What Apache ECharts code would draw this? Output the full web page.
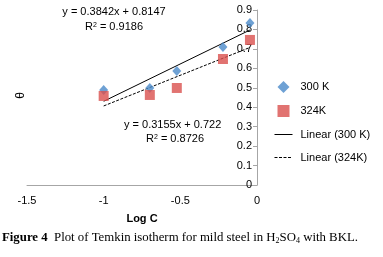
<!DOCTYPE html>
<html>
<head>
<meta charset="utf-8">
<script src="https://cdn.jsdelivr.net/npm/echarts@6/dist/echarts.min.js"></script>
<style>
  html, body { margin: 0; padding: 0; background: #fff; }
  #chart { width: 383px; height: 257px; }
</style>
</head>
<body>
<div id="chart"></div>
<script>
// log C values and coverage (theta)
const logC = [-1, -0.699, -0.523, -0.222, -0.046];
const theta300 = [0.488, 0.499, 0.586, 0.71, 0.833];
const theta324 = [0.458, 0.463, 0.499, 0.648, 0.746];

// trendline endpoints (from the printed fits)
const fit300 = [[-1, 0.4305], [-0.046, 0.7970]];
const fit324 = [[-1, 0.4065], [-0.046, 0.7075]];

const xTicks = [-1.5, -1, -0.5, 0];
const yTicks = [0, 0.1, 0.2, 0.3, 0.4, 0.5, 0.6, 0.7, 0.8, 0.9];

const chart = echarts.init(document.getElementById('chart'));

const font = 'Liberation Sans';
const noMarker = { color: 'transparent', borderWidth: 0 };

const option = {
  animation: false,
  textStyle: { fontFamily: font },
  grid: { left: 27, right: 126, top: 10, bottom: 72 },
  xAxis: {
    type: 'value',
    min: xTicks[0],
    max: xTicks[xTicks.length - 1],
    interval: 0.5,
    name: 'Log C',
    nameLocation: 'middle',
    nameGap: 28,
    nameTextStyle: { fontFamily: font, fontSize: 11, fontWeight: 'bold', color: '#000' },
    axisLine: { lineStyle: { color: '#a6a6a6', width: 1 } },
    axisTick: { show: false },
    splitLine: { show: false },
    axisLabel: { color: '#000', fontSize: 11, margin: 10 }
  },
  yAxis: {
    type: 'value',
    position: 'right',
    min: yTicks[0],
    max: yTicks[yTicks.length - 1],
    interval: 0.1,
    axisLine: { show: true, onZero: false, lineStyle: { color: '#a6a6a6', width: 1 } },
    axisTick: { show: true, inside: true, length: 4, lineStyle: { color: '#a6a6a6' } },
    splitLine: { show: false },
    axisLabel: {
      inside: true, margin: 5, color: '#000', fontSize: 11,
      formatter: v => String(Math.round(v * 10) / 10)
    }
  },
  legend: {
    orient: 'vertical',
    left: 269,
    top: 76,
    itemGap: 12,
    itemWidth: 18,
    itemHeight: 12,
    lineStyle: { width: 1 },
    textStyle: { fontFamily: font, fontSize: 11, color: '#000', padding: [0, 0, 0, 3] },
    data: [
      { name: '300 K', icon: 'path://M5,0 L10,5 L5,10 L0,5 Z' },
      { name: '324K', icon: 'path://M0,0 L10,0 L10,10 L0,10 Z' },
      { name: 'Linear (300 K)', itemStyle: noMarker },
      { name: 'Linear (324K)', itemStyle: noMarker }
    ]
  },
  series: [
    {
      name: 'Linear (300 K)',
      type: 'line',
      data: fit300,
      symbol: 'none',
      lineStyle: { color: '#000', width: 1 },
      itemStyle: { color: '#000' },
      z: 1
    },
    {
      name: 'Linear (324K)',
      type: 'line',
      data: fit324,
      symbol: 'none',
      lineStyle: { color: '#000', width: 1, type: [3, 1.5] },
      itemStyle: { color: '#000' },
      z: 1
    },
    {
      name: '300 K',
      type: 'scatter',
      data: logC.map((x, i) => [x, theta300[i]]),
      symbol: 'diamond',
      symbolSize: [9, 10],
      itemStyle: { color: '#4A8AC9' },
      z: 3
    },
    {
      name: '324K',
      type: 'scatter',
      data: logC.map((x, i) => [x, theta324[i]]),
      symbol: 'rect',
      symbolSize: 10,
      itemStyle: { color: '#D9504E' },
      z: 4
    }
  ],
  graphic: [
    {
      type: 'text', left: 15, top: 92, rotation: Math.PI / 2,
      style: { text: 'θ', font: '12px ' + font, fill: '#000' }
    },
    {
      type: 'text', x: 114, y: 12,
      style: { text: 'y = 0.3842x + 0.8147', font: '11px ' + font, fill: '#000', align: 'center', verticalAlign: 'middle' }
    },
    {
      type: 'text', x: 114, y: 27,
      style: {
        text: '{a|R}{s|2}{a| = 0.9186}', align: 'center', verticalAlign: 'middle',
        rich: {
          a: { fontFamily: font, fontSize: 11, fill: '#000' },
          s: { fontFamily: font, fontSize: 7, fill: '#000', verticalAlign: 'top', lineHeight: 10 }
        }
      }
    },
    {
      type: 'text', x: 124, y: 125,
      style: { text: 'y = 0.3155x + 0.722', font: '11px ' + font, fill: '#000', verticalAlign: 'middle' }
    },
    {
      type: 'text', x: 146, y: 139,
      style: {
        text: '{a|R}{s|2}{a| = 0.8726}', verticalAlign: 'middle',
        rich: {
          a: { fontFamily: font, fontSize: 11, fill: '#000' },
          s: { fontFamily: font, fontSize: 7, fill: '#000', verticalAlign: 'top', lineHeight: 10 }
        }
      }
    },
    {
      type: 'text', x: 2, y: 238,
      style: {
        text: '{b|Figure 4}{r|  Plot of Temkin isotherm for mild steel in H}{s|2}{r|SO}{s|4}{r| with BKL.}',
        verticalAlign: 'middle',
        rich: {
          b: { fontFamily: 'Liberation Serif', fontSize: 12.8, fontWeight: 'bold', fill: '#000' },
          r: { fontFamily: 'Liberation Serif', fontSize: 12.8, fill: '#000' },
          s: { fontFamily: 'Liberation Serif', fontSize: 8, fill: '#000', verticalAlign: 'bottom', lineHeight: 9, padding: [7, 0, 0, 0] }
        }
      }
    }
  ]
};

chart.setOption(option);
</script>
</body>
</html>
